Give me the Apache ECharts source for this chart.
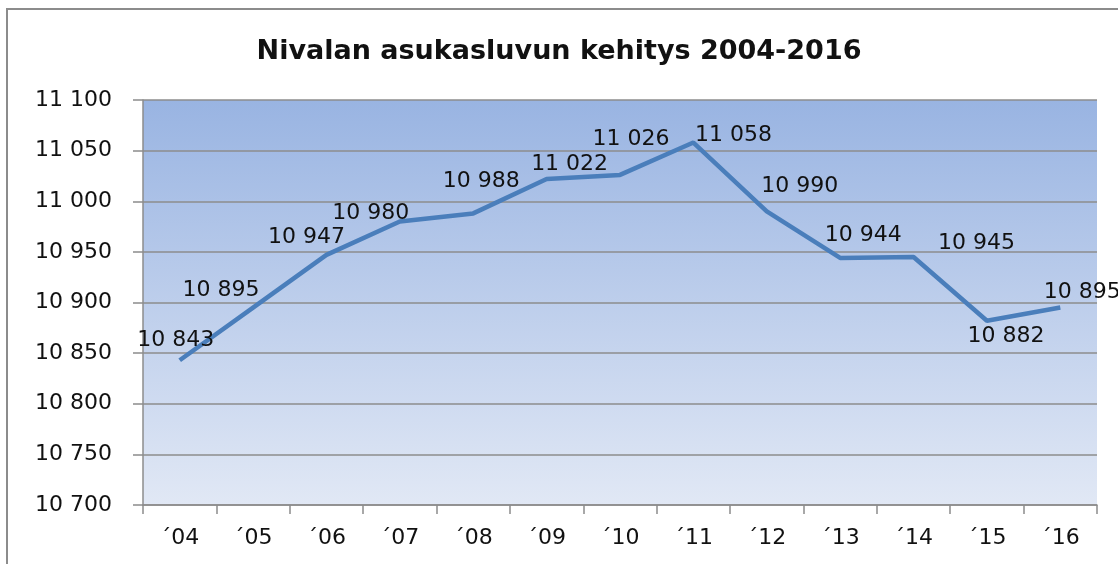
<!DOCTYPE html>
<html>
<head>
<meta charset="utf-8">
<script src="https://cdn.jsdelivr.net/npm/echarts@6/dist/echarts.min.js"></script>
<style>
  html, body { margin: 0; padding: 0; background: #fff; }
  #chart { width: 1118px; height: 564px; }
</style>
</head>
<body>
<div id="chart"></div>
<script>
const years = ["´04", "´05", "´06", "´07", "´08", "´09", "´10", "´11", "´12", "´13", "´14", "´15", "´16"];
const population = [10843, 10895, 10947, 10980, 10988, 11022, 11026, 11058, 10990, 10944, 10945, 10882, 10895];
// where each value label sits relative to its point (Excel placed them by hand)
const labelOffsets = [[-4, -20], [-32, -17], [-20, -18], [-29, -8], [8, -32], [23, -15], [11, -36],
  [40, -7], [33, -25], [23, -23], [63, -14], [19, 16], [22, -15]];

const fmt = (v) => String(v).replace(/(\d{2})(\d{3})$/, "$1 $2");

const chart = echarts.init(document.getElementById("chart"));
const option = {
  animation: false,
  textStyle: { fontFamily: "DejaVu Sans" },
  title: {
    text: "Nivalan asukasluvun kehitys 2004-2016",
    left: "center",
    top: 33,
    textStyle: { color: "#111", fontSize: 27, fontWeight: "bold", fontFamily: "DejaVu Sans" },
  },
  graphic: [
    {
      type: "rect",
      shape: { x: 7, y: 9, width: 1300, height: 800 },
      style: { fill: "none", stroke: "#8c8c8c", lineWidth: 2 },
      silent: true,
    },
  ],
  grid: {
    left: 143,
    right: 21,
    top: 100,
    bottom: 59,
    show: true,
    borderWidth: 0,
    backgroundColor: new echarts.graphic.LinearGradient(0, 0, 0, 1, [
      { offset: 0, color: "#99b4e2" },
      { offset: 1, color: "#e1e8f5" },
    ]),
  },
  xAxis: {
    type: "category",
    data: years,
    boundaryGap: true,
    axisLine: { lineStyle: { color: "#8c8c8c", width: 1.5 } },
    axisTick: { show: true, length: 9, lineStyle: { color: "#8c8c8c", width: 1.5 } },
    axisLabel: { color: "#111", fontSize: 22, margin: 22 },
  },
  yAxis: {
    type: "value",
    min: 10700,
    max: 11100,
    interval: 50,
    axisLine: { show: true, lineStyle: { color: "#8c8c8c", width: 1.5 } },
    axisTick: { show: true, length: 10, lineStyle: { color: "#8c8c8c", width: 1.5 } },
    splitLine: { lineStyle: { color: "#8c8c8c", width: 1.5 } },
    axisLabel: { color: "#111", fontSize: 22, margin: 31, formatter: fmt },
  },
  series: [
    {
      type: "line",
      data: population.map((v, i) => ({
        value: v,
        label: { offset: labelOffsets[i] },
      })),
      symbol: "circle",
      symbolSize: 1,
      itemStyle: { color: "rgba(0,0,0,0)" },
      lineStyle: { color: "#4a7ebb", width: 4.5 },
      label: {
        show: true,
        position: "inside",
        color: "#111",
        fontSize: 22,
        formatter: (p) => fmt(p.value),
      },
    },
  ],
};
chart.setOption(option);
</script>
</body>
</html>
